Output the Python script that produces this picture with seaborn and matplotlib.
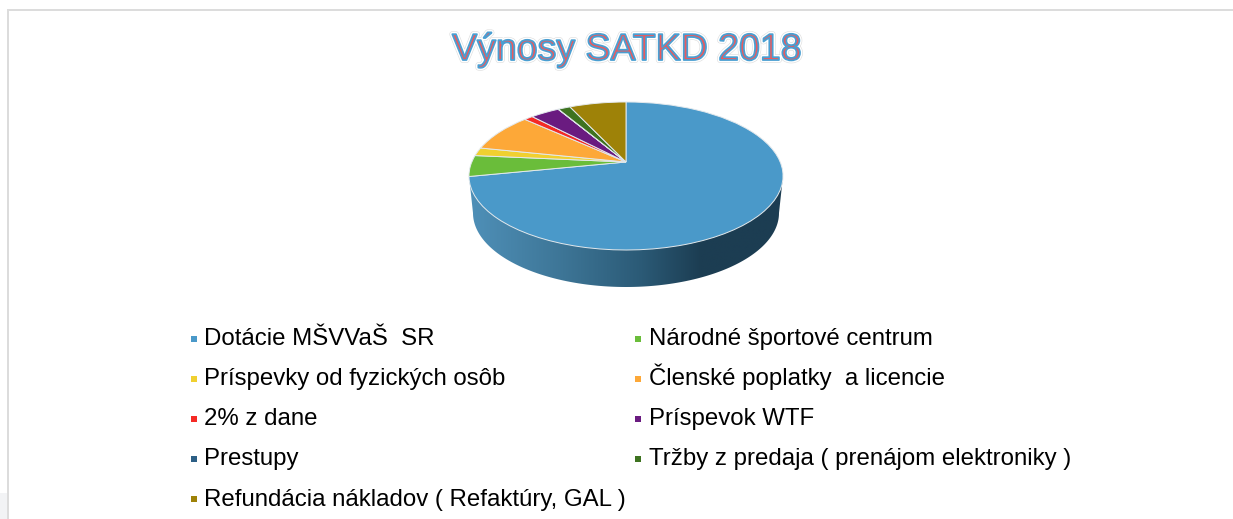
import numpy as np
import matplotlib
matplotlib.use("Agg")
import matplotlib.pyplot as plt
import matplotlib.patheffects as pe
from matplotlib.colors import LinearSegmentedColormap
from matplotlib.legend_handler import HandlerLine2D
from matplotlib.lines import Line2D
from matplotlib.patches import Polygon, Rectangle
from matplotlib.transforms import Transform
import seaborn as sns

# data (share of revenue, %)
title = "Výnosy SATKD 2018"
labels = ["Dotácie MŠVVaŠ  SR", "Národné športové centrum", "Príspevky od fyzických osôb",
          "Členské poplatky  a licencie", "2% z dane", "Príspevok WTF", "Prestupy",
          "Tržby z predaja ( prenájom elektroniky )", "Refundácia nákladov ( Refaktúry, GAL )"]
values = [71.9, 4.6, 1.8, 8.5, 1.1, 3.6, 0.05, 1.5, 7.0]
colors = ["#4a99c9", "#6abd3a", "#f0d030", "#fda838", "#f52a25",
          "#6a1b80", "#2c5f85", "#3e7320", "#9e8208"]

sns.set_theme(style="white")
plt.rcParams["font.family"] = ["Liberation Sans", "DejaVu Sans"]
palette = sns.color_palette(colors)


class Tilt(Transform):
    # tilts the flat pie: the apex sits above the middle of the ellipse
    input_dims = 2
    output_dims = 2

    def transform_non_affine(self, values):
        u, v = values[:, 0], values[:, 1]
        w = 1 + 0.189 * v
        return np.column_stack([626 + 154.2 * u / w, 162 - 71.35 * v / w])


def lower_marker(legend_line, orig):
    # legend squares sit a little under the middle of the text
    legend_line.update_from(orig)
    legend_line.set_ydata(np.asarray(legend_line.get_ydata()) - 3.6)


fig = plt.figure(figsize=(12.33, 5.19), dpi=100)
ax = fig.add_axes([0, 0, 1, 1])

# page frame
ax.add_patch(Rectangle((7, 9), 1300, 2, color="#dcdcdc", lw=0))
ax.add_patch(Rectangle((7, 9), 2, 600, color="#dcdcdc", lw=0))
ax.add_patch(Rectangle((0, 493), 7, 30, color="#f2f3f5", lw=0))

# side wall of the pie
s = np.linspace(np.pi, 0, 200)
wall = np.column_stack([626 + 153 * np.cos(s), 213 + 74 * np.sin(s)])
wall = np.vstack([[469, 176], wall, [783, 176]])
side_cmap = LinearSegmentedColormap.from_list(
    "side", [(0, "#4f90b8"), (0.3, "#3d7596"), (0.55, "#2b5a76"), (0.74, "#1c3d52"), (1, "#1c3d52")])
grad = ax.imshow(np.linspace(0, 1, 256)[None, :], cmap=side_cmap, aspect="auto",
                 extent=(469, 783, 290, 170), zorder=1)
clip = Polygon(wall, closed=True, transform=ax.transData, fill=False, lw=0)
ax.add_patch(clip)
grad.set_clip_path(clip)

# top face
wedges, _ = ax.pie(values, colors=palette, startangle=90, counterclock=False,
                   wedgeprops=dict(edgecolor="#e3e9ed", linewidth=0.7))
tilt = Tilt()
for w in wedges:
    w.set_transform(tilt + ax.transData)
    w.set_zorder(2)
    w.set_clip_on(False)

ax.set_xlim(0, 1233)
ax.set_ylim(519, 0)
ax.set_aspect("auto")
ax.axis("off")

ax.text(627, 60, title, fontsize=27, color="#ea5a5e", ha="center", va="baseline",
        path_effects=[pe.Stroke(linewidth=4.2, foreground="#dcdcdc"),
                      pe.Stroke(linewidth=3.4, foreground="white"),
                      pe.Stroke(linewidth=1.3, foreground="#4a9fd2")])

# legend fills column by column, the reference reads row by row
order = [0, 2, 4, 6, 8, 1, 3, 5, 7]
handles = [Line2D([], [], ls="", marker="s", ms=4, color=palette[i], mew=0) for i in order]
ax.legend(handles, [labels[i] for i in order], ncol=2, frameon=False, fontsize=17.3,
          loc="upper left", bbox_to_anchor=(190, 322.5), bbox_transform=ax.transData,
          borderpad=0, borderaxespad=0, labelspacing=0.45, columnspacing=0.37,
          handlelength=0.3, handleheight=1.5, handletextpad=0.28, labelcolor="black",
          handler_map={Line2D: HandlerLine2D(update_func=lower_marker)})

fig.savefig("out.png", dpi=100)
